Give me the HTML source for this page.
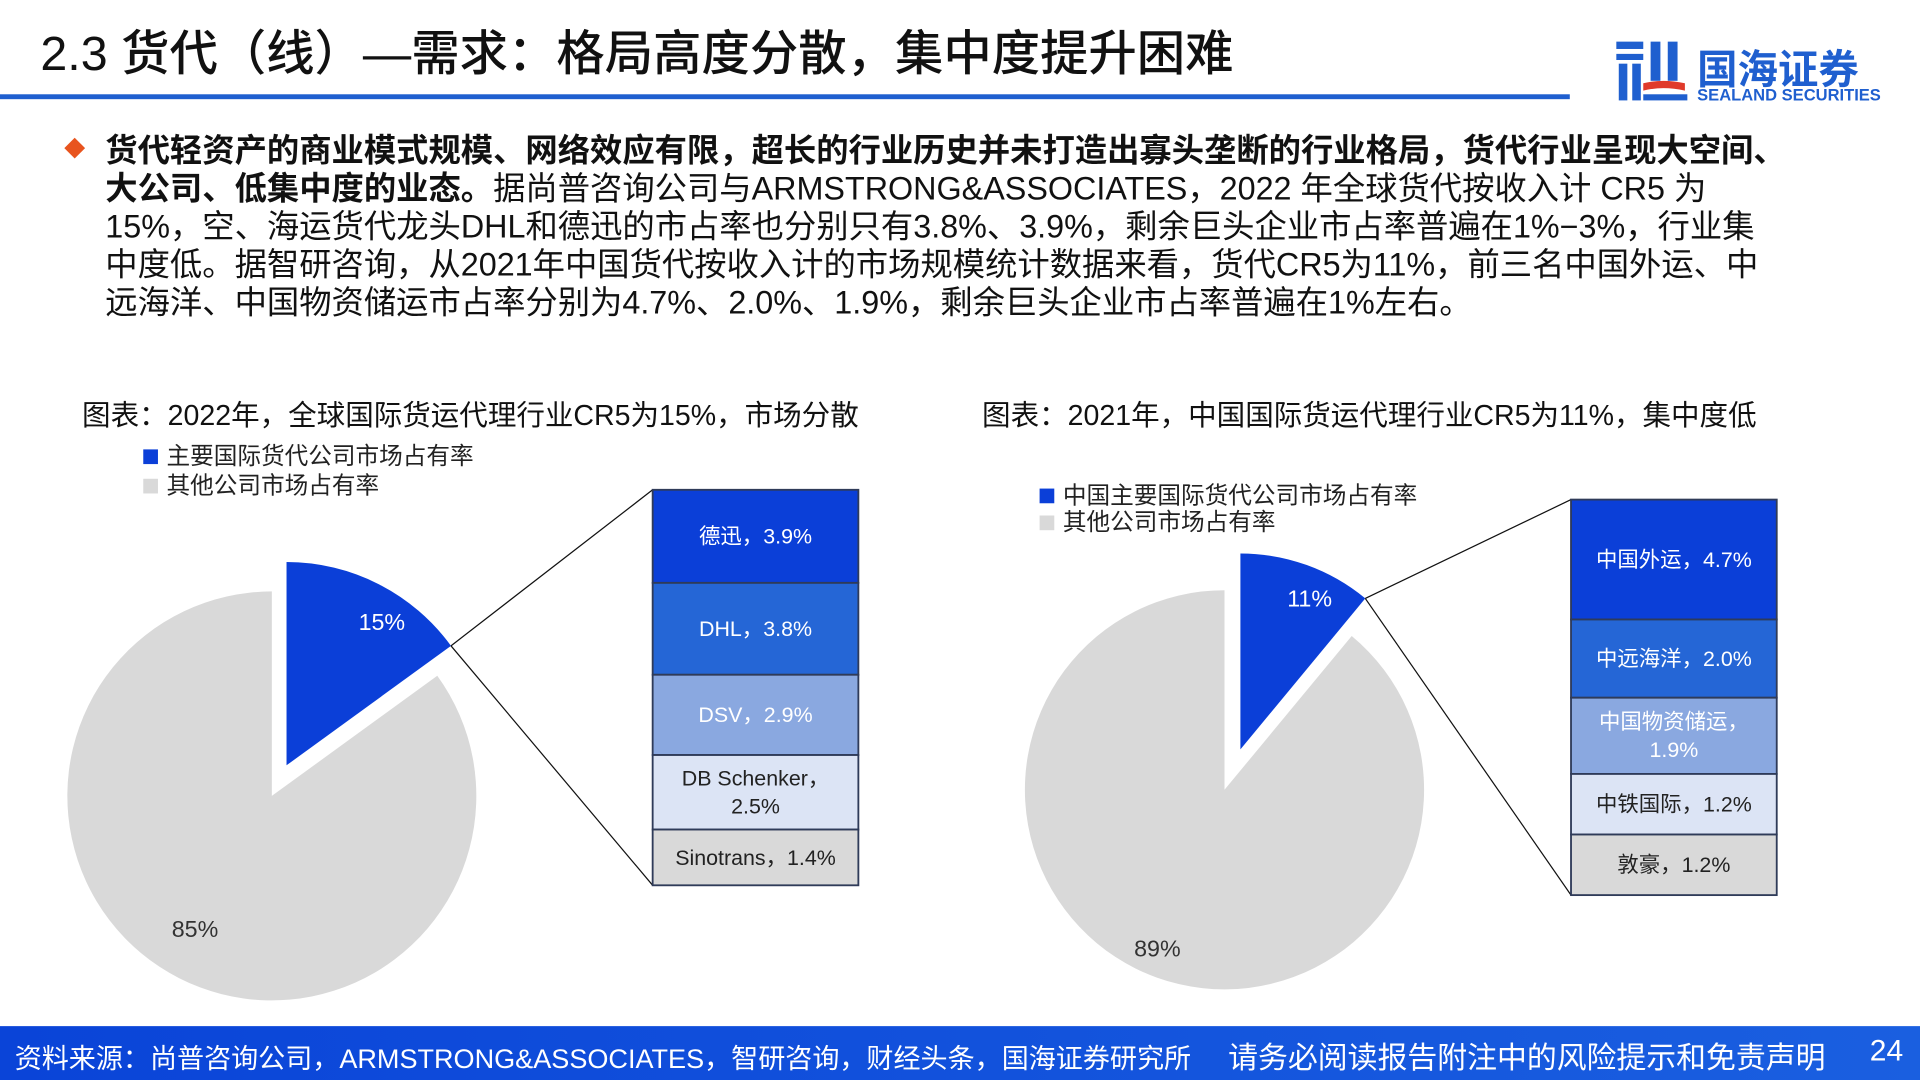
<!DOCTYPE html>
<html><head><meta charset="utf-8">
<style>
html,body{margin:0;padding:0;background:#fff;}
body{width:1920px;height:1080px;overflow:hidden;position:relative;}
#wrap{position:absolute;left:0;top:0;width:1568px;height:882px;transform:scale(1.22449);transform-origin:0 0;font-family:"Liberation Sans","Noto Sans CJK SC",sans-serif;color:#111;}
.abs{position:absolute;white-space:nowrap;}
</style></head>
<body>
<div id="wrap">
  <div class="abs" style="left:33px;top:12px;font-size:39.5px;font-weight:500;color:#111;">2.3 货代（线）—需求：格局高度分散，集中度提升困难</div>
  <div class="abs" style="left:0;top:77px;width:1282px;height:4px;background:#1f5fcf;"></div>
  <div class="abs" style="left:1318px;top:30px;width:220px;height:56px;">
    <svg width="64" height="56">
      <rect x="2" y="4" width="22" height="6" fill="#1f5fcf"/>
      <rect x="2" y="14" width="22" height="5" fill="#1f5fcf"/>
      <rect x="4" y="22" width="7" height="30" fill="#1f5fcf"/>
      <rect x="15" y="22" width="7" height="30" fill="#1f5fcf"/>
      <rect x="30" y="4" width="8" height="32" fill="#1f5fcf"/>
      <rect x="44" y="4" width="8" height="32" fill="#1f5fcf"/>
      <path d="M24 38 Q40 34 58 38 L58 44 Q40 40 24 44 Z" fill="#e03a2b"/>
      <rect x="24" y="47" width="36" height="5" fill="#1f5fcf"/>
    </svg>
    <div class="abs" style="left:68px;top:0px;font-size:33px;font-weight:bold;color:#1f5fcf;">国海证券</div>
    <div class="abs" style="left:68px;top:40px;font-size:13.5px;font-weight:bold;color:#1f5fcf;">SEALAND SECURITIES</div>
  </div>
  <div class="abs" style="left:55px;top:115px;width:12px;height:12px;background:#e8541e;transform:rotate(45deg);"></div>
  <div class="abs" style="left:86px;top:108px;font-size:26.4px;line-height:31px;color:#111;">
    <b>货代轻资产的商业模式规模、网络效应有限，超长的行业历史并未打造出寡头垄断的行业格局，货代行业呈现大空间、</b><br>
    <b>大公司、低集中度的业态。</b>据尚普咨询公司与ARMSTRONG&amp;ASSOCIATES，2022 年全球货代按收入计 CR5 为<br>
    15%，空、海运货代龙头DHL和德迅的市占率也分别只有3.8%、3.9%，剩余巨头企业市占率普遍在1%−3%，行业集<br>
    中度低。据智研咨询，从2021年中国货代按收入计的市场规模统计数据来看，货代CR5为11%，前三名中国外运、中<br>
    远海洋、中国物资储运市占率分别为4.7%、2.0%、1.9%，剩余巨头企业市占率普遍在1%左右。
  </div>
  <div class="abs" style="left:67px;top:320px;font-size:23.3px;">图表：2022年，全球国际货运代理行业CR5为15%，市场分散</div>
  <div class="abs" style="left:802px;top:320px;font-size:23.3px;">图表：2021年，中国国际货运代理行业CR5为11%，集中度低</div>

  <svg id="charts" class="abs" style="left:0;top:0;" width="1568" height="840"></svg>

  <div class="abs" style="left:0;top:838px;width:1568px;height:44px;background:linear-gradient(90deg,#0a44d8,#1a5fe0);"></div>
  <div class="abs" style="left:12px;top:847px;font-size:22.1px;color:#fff;">资料来源：尚普咨询公司，ARMSTRONG&amp;ASSOCIATES，智研咨询，财经头条，国海证券研究所</div>
  <div class="abs" style="left:1003px;top:845px;font-size:24.4px;color:#fff;">请务必阅读报告附注中的风险提示和免责声明</div>
  <div class="abs" style="left:1527px;top:845px;font-size:24.5px;color:#fff;">24</div>
</div>
<script>
// Left chart data
const leftPieLabels = ["主要国际货代公司市场占有率","其他公司市场占有率"];
const leftPieValues = [15, 85];
const leftStackNames = ["德迅","DHL","DSV","DB Schenker","Sinotrans"];
const leftStackValues = [3.9, 3.8, 2.9, 2.5, 1.4];
// Right chart data
const rightPieLabels = ["中国主要国际货代公司市场占有率","其他公司市场占有率"];
const rightPieValues = [11, 89];
const rightStackNames = ["中国外运","中远海洋","中国物资储运","中铁国际","敦豪"];
const rightStackValues = [4.7, 2.0, 1.9, 1.2, 1.2];

const NS="http://www.w3.org/2000/svg";
const svg=document.getElementById('charts');
const segColors=["#0b3fd8","#2566d6","#8aa8e0","#dce4f5","#d9d9d9"];
const segText=["#fff","#fff","#fff","#222","#222"];
function mk(tag,attrs,parent){const e=document.createElementNS(NS,tag);for(const k in attrs)e.setAttribute(k,attrs[k]);(parent||svg).appendChild(e);return e;}
function pt(cx,cy,r,deg){const a=deg*Math.PI/180;return [cx+r*Math.sin(a),cy-r*Math.cos(a)];}
function arc(cx,cy,r,a0,a1){const p0=pt(cx,cy,r,a0),p1=pt(cx,cy,r,a1);const large=(a1-a0)>180?1:0;return `M${cx},${cy} L${p0[0]},${p0[1]} A${r},${r} 0 ${large} 1 ${p1[0]},${p1[1]} Z`;}
function estW(s){let w=0;for(const c of s){w+=/[\u2E80-\uFFEF]/.test(c)?17.5:9.5;}return w;}
function drawChart(cfg,labels,values,names,vals,prefix){
  const total=values[0]+values[1];
  const ang=values[0]/total*360;
  const lg=[["#0b3fd8",labels[0]],["#d9d9d9",labels[1]]];
  lg.forEach((l,i)=>{
    const r=mk('rect',{x:cfg.lx,y:cfg.ly+i*cfg.lgap-6,width:12,height:12,fill:l[0]});
    
    
    const t=mk('text',{x:cfg.lx+19,y:cfg.ly+i*cfg.lgap+6,'font-size':19.3,fill:'#222'});
    t.textContent=l[1];
    
    
  });
  const g=mk('path',{d:arc(cfg.gx,cfg.gy,cfg.gr,ang,360),fill:'#d9d9d9'});
  
  
  const b=mk('path',{d:arc(cfg.bx,cfg.by,cfg.br,0,ang),fill:'#0b3fd8'});
  
  
  const bl=pt(cfg.bx,cfg.by,cfg.br*0.85,ang*0.62);
  const t1=mk('text',{x:bl[0],y:bl[1]+7,'font-size':19,fill:'#fff','text-anchor':'middle'});
  t1.textContent=values[0]+'%';
  
  
  const gl=pt(cfg.gx,cfg.gy,cfg.gr*cfg.gf,ang+(360-ang)*0.51);
  const t2=mk('text',{x:gl[0],y:gl[1]+7,'font-size':19,fill:'#333','text-anchor':'middle'});
  t2.textContent=values[1]+'%';
  
  
  const tip=pt(cfg.bx,cfg.by,cfg.br,ang);
  const l1=mk('line',{x1:tip[0],y1:tip[1],x2:cfg.sx,y2:cfg.sy,stroke:'#111','stroke-width':1});
  
  
  const l2=mk('line',{x1:tip[0],y1:tip[1],x2:cfg.sx,y2:cfg.sy+cfg.sh,stroke:'#111','stroke-width':1});
  
  
  const w=vals.map(v=>Math.sqrt(v));const ws=w.reduce((a,c)=>a+c,0);
  let y=cfg.sy;
  vals.forEach((v,i)=>{
    const h=w[i]/ws*cfg.sh;
    const r=mk('rect',{x:cfg.sx,y:y,width:cfg.sw,height:h,fill:segColors[i],stroke:'#2f3b59','stroke-width':1.5});
    
    
    const label=names[i]+'，'+v.toFixed(1)+'%';
    const cx=cfg.sx+cfg.sw/2, cy=y+h/2;
    const lines=(estW(label)>150&&h>42)?[names[i]+'，',v.toFixed(1)+'%']:[label];
    lines.forEach((ln,j)=>{
      const t=mk('text',{x:cx,y:cy+6+(j-(lines.length-1)/2)*23,'font-size':17.5,fill:segText[i],'text-anchor':'middle'});
      t.textContent=ln;
      
      
    });
    y+=h;
  });
}
drawChart({lx:117,ly:373,lgap:24,gx:222,gy:650,gr:167,gf:0.75,bx:234,by:625,br:166,sx:533,sy:400,sw:168,sh:323},leftPieLabels,leftPieValues,leftStackNames,leftStackValues,'left');
drawChart({lx:849,ly:405,lgap:22,gx:1000,gy:645,gr:163,gf:0.86,bx:1013,by:612,br:160,sx:1283,sy:408,sw:168,sh:323},rightPieLabels,rightPieValues,rightStackNames,rightStackValues,'right');
</script>
</body></html>
